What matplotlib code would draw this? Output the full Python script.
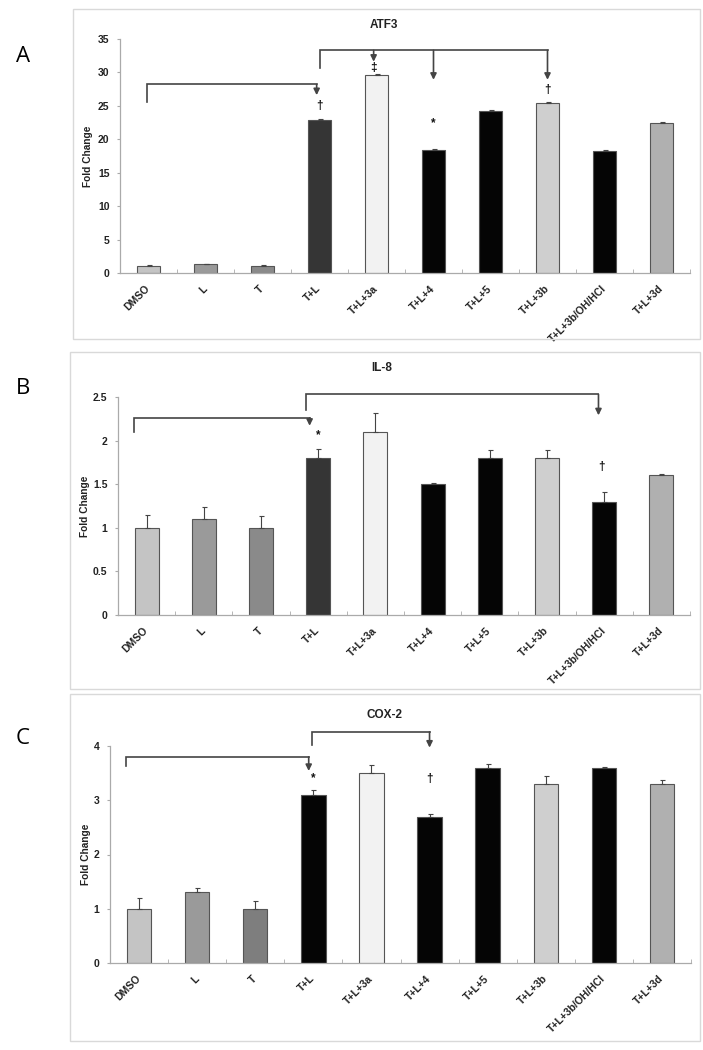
import matplotlib
matplotlib.use("Agg")
import matplotlib.pyplot as plt
from matplotlib.patches import Rectangle
import numpy as np

plt.rcParams['font.family'] = ['Liberation Sans', 'DejaVu Sans']

categories = ["DMSO", "L", "T", "T+L", "T+L+3a", "T+L+4", "T+L+5", "T+L+3b",
              "T+L+3b/OH/HCl", "T+L+3d"]

atf3_vals = [1.1, 1.3, 1.1, 22.9, 29.6, 18.4, 24.3, 25.5, 18.3, 22.5]
atf3_err = [0.08, 0.08, 0.06, 0.1, 0.1, 0.1, 0.1, 0.12, 0.1, 0.08]

il8_vals = [1.0, 1.1, 1.0, 1.8, 2.1, 1.5, 1.8, 1.8, 1.3, 1.6]
il8_err = [0.15, 0.14, 0.14, 0.1, 0.22, 0.01, 0.09, 0.09, 0.11, 0.02]

cox2_vals = [1.0, 1.3, 1.0, 3.1, 3.5, 2.7, 3.6, 3.3, 3.6, 3.3]
cox2_err = [0.2, 0.08, 0.14, 0.09, 0.15, 0.04, 0.06, 0.15, 0.02, 0.07]

colors_ab = ["#c4c4c4", "#9a9a9a", "#8a8a8a", "#353535", "#f2f2f2", "#050505",
             "#050505", "#cfcfcf", "#050505", "#b0b0b0"]
colors_c = ["#c4c4c4", "#9a9a9a", "#7e7e7e", "#050505", "#f2f2f2", "#050505",
            "#050505", "#cfcfcf", "#050505", "#b0b0b0"]

W, H = 703, 1050
fig = plt.figure(figsize=(W / 100, H / 100), dpi=100)

def fx(px):
    return px / W

def fy(py):
    return 1 - py / H

# panel frames
for (l, t, r, b) in [(73, 9, 700, 339), (70, 352, 700, 689), (70, 694, 700, 1041)]:
    fig.patches.append(Rectangle((fx(l), fy(b)), fx(r) - fx(l), fy(t) - fy(b),
                                 transform=fig.transFigure, fill=False,
                                 edgecolor="#d9d9d9", linewidth=1.0))

LC = "#444444"
TXT = "#222222"

def make_panel(rect, vals, errs, colors, ymax, ystep, title, title_xy, ylab_x):
    ax = fig.add_axes(rect)
    x = np.arange(len(categories))
    ax.bar(x, vals, width=0.42, color=colors, edgecolor="#555555", linewidth=0.8,
           zorder=2)
    ax.errorbar(x, vals, yerr=[np.zeros(len(vals)), errs], fmt="none",
                ecolor="#444444", elinewidth=0.8, capsize=1.8, capthick=0.8, zorder=3)
    ax.set_xlim(-0.5, len(categories) - 0.5)
    ax.set_ylim(0, ymax)
    ticks = np.arange(0, ymax + ystep / 2, ystep)
    ax.set_yticks(ticks)
    ax.set_yticklabels([f"{t:g}" for t in ticks], fontsize=7.5, fontweight="bold",
                       color=TXT)
    ax.set_xticks(x)
    ax.set_xticklabels(categories, rotation=45, ha="right", va="center",
                       rotation_mode="anchor", fontsize=7.5, fontweight="bold",
                       color=TXT)
    ax.tick_params(axis="x", length=0, pad=10)
    ax.set_xticks(np.arange(-0.5, len(categories)), minor=True)
    ax.tick_params(axis="x", which="minor", length=3, direction="in", color="#aaaaaa")
    ax.tick_params(axis="y", length=2.5, direction="out", color="#aaaaaa", pad=5)
    for s in ["top", "right"]:
        ax.spines[s].set_visible(False)
    for s in ["left", "bottom"]:
        ax.spines[s].set_color("#aaaaaa")
        ax.spines[s].set_linewidth(0.9)
    fig.text(fx(title_xy[0]), fy(title_xy[1]), title, fontsize=8.5, fontweight="bold",
             ha="center", va="center", color=TXT)
    fig.text(fx(ylab_x), rect[1] + rect[3] / 2, "Fold Change", rotation=90,
             fontsize=7.3, fontweight="bold", ha="center", va="center", color=TXT)
    return ax

def bracket(ax, x0, ybot, ytop, x1, arrows):
    ax.plot([x0, x0, x1], [ybot, ytop, ytop], color=LC, lw=1.2, clip_on=False,
            zorder=4, solid_joinstyle="miter")
    for (xa, tip) in arrows:
        ax.annotate("", xy=(xa, tip), xytext=(xa, ytop),
                    arrowprops=dict(arrowstyle="-|>", color=LC, lw=1.2,
                                    mutation_scale=9, shrinkA=0, shrinkB=0),
                    annotation_clip=False, zorder=4)

def mark(ax, xpos, y, s):
    ax.text(xpos, y, s, ha="center", va="center", fontsize=8.5, fontweight="bold",
            color="#111111", clip_on=False)

# Panel A
axA = make_panel([fx(120), fy(273), fx(690) - fx(120), fy(39) - fy(273)],
                 atf3_vals, atf3_err, colors_ab, 35, 5, "ATF3", (384, 25), 88)
bracket(axA, -0.02, 25.6, 28.2, 2.95, [(2.95, 26.6)])
bracket(axA, 3.0, 30.6, 33.3, 7.0, [(3.95, 31.6), (5.0, 28.9), (7.0, 28.9)])
mark(axA, 3.0, 25.0, "\u2020")
mark(axA, 3.95, 30.6, "\u2021")
mark(axA, 5.0, 22.4, "*")
mark(axA, 7.0, 27.3, "\u2020")

# Panel B
axB = make_panel([fx(118), fy(615), fx(690) - fx(118), fy(397) - fy(615)],
                 il8_vals, il8_err, colors_ab, 2.5, 0.5, "IL-8", (382, 368), 85)
bracket(axB, -0.22, 2.10, 2.26, 2.85, [(2.85, 2.17)])
bracket(axB, 2.78, 2.35, 2.53, 7.9, [(7.9, 2.29)])
mark(axB, 3.0, 2.06, "*")
mark(axB, 7.95, 1.70, "\u2020")

# Panel C
axC = make_panel([fx(110), fy(963), fx(691) - fx(110), fy(746) - fy(963)],
                 cox2_vals, cox2_err, colors_c, 4, 1, "COX-2", (384, 715), 86)
bracket(axC, -0.22, 3.63, 3.80, 2.92, [(2.92, 3.54)])
bracket(axC, 2.97, 4.02, 4.26, 5.0, [(5.0, 3.97)])
mark(axC, 3.0, 3.40, "*")
mark(axC, 5.0, 3.40, "\u2020")

# panel letters
for letter, py in [("A", 57), ("B", 388), ("C", 738)]:
    fig.text(fx(23), fy(py), letter, fontsize=16, ha="center", va="center",
             family=["Open Sans", "DejaVu Sans"])

fig.savefig("out.png", dpi=100)
